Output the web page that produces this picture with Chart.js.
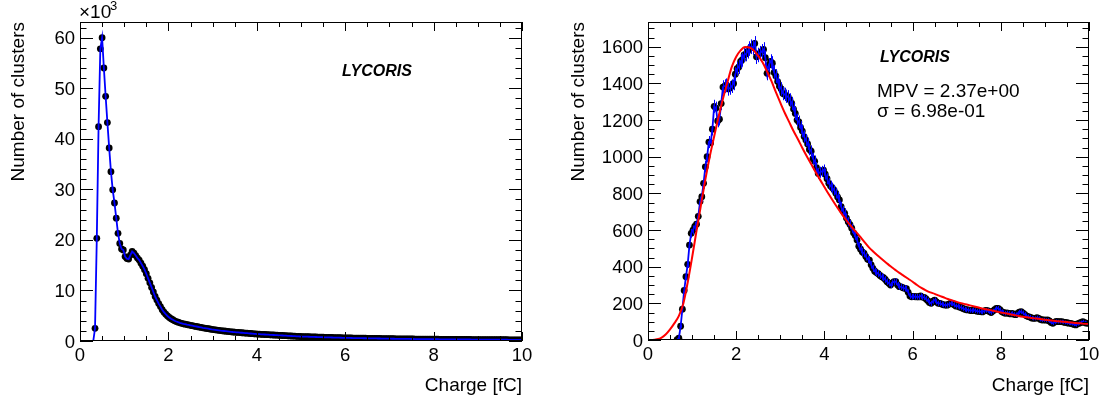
<!DOCTYPE html>
<html>
<head>
<meta charset="utf-8">
<script src="https://cdn.jsdelivr.net/npm/chart.js@4.4.1/dist/chart.umd.min.js"></script>
<style>
  body { margin: 0; background: #fff; }
  #wrap { position: relative; width: 1104px; height: 403px; }
  .pad { position: absolute; top: 0; width: 552px; height: 403px; }
</style>
</head>
<body>
<div id="wrap">
  <div class="pad" style="left:0"><canvas id="leftChart"></canvas></div>
  <div class="pad" style="left:552px"><canvas id="rightChart"></canvas></div>
</div>
<script>
// histogram binning, both pads: 250 bins on 0..10 fC
const xMin = 0, xMax = 10, nBins = 250;

// left pad: clusters per bin, in units of 10^3
const leftCounts = [
  0, 0, 0, 0, 0, 0, 0, 0, 2.5, 20.3, 42.4, 57.8, 60.0, 54.0, 48.4, 43.2, 38.2, 33.5, 29.9, 27.3, 24.3, 21.3, 19.3, 18.2, 18.0,
  16.7, 16.3, 16.2, 17.0, 17.7, 17.4, 16.9, 16.4, 16.0, 15.4, 14.8, 14.1, 13.3, 12.4, 11.5, 10.6, 9.7, 8.8, 8.1, 7.4, 6.8, 6.2, 5.7, 5.3, 4.95,
  4.65, 4.4, 4.2, 4.0, 3.85, 3.72, 3.6, 3.5, 3.4, 3.32, 3.24, 3.17, 3.1, 3.03, 2.96, 2.89, 2.82, 2.75, 2.68, 2.61, 2.55, 2.49, 2.43, 2.37, 2.31,
  2.26, 2.21, 2.16, 2.11, 2.06, 2.02, 1.98, 1.94, 1.90, 1.86, 1.82, 1.78, 1.75, 1.72, 1.69, 1.66, 1.63, 1.60, 1.57, 1.54, 1.51, 1.48, 1.45, 1.42, 1.39,
  1.37, 1.35, 1.33, 1.31, 1.29, 1.27, 1.25, 1.23, 1.21, 1.19, 1.17, 1.15, 1.13, 1.11, 1.09, 1.07, 1.05, 1.03, 1.01, 0.99, 0.97, 0.95, 0.93, 0.91, 0.89,
  0.88, 0.87, 0.86, 0.85, 0.84, 0.82, 0.81, 0.80, 0.79, 0.78, 0.76, 0.75, 0.74, 0.73, 0.72, 0.71, 0.70, 0.69, 0.68, 0.67, 0.66, 0.65, 0.64, 0.63, 0.62,
  0.61, 0.61, 0.60, 0.59, 0.58, 0.58, 0.57, 0.56, 0.56, 0.55, 0.54, 0.54, 0.53, 0.52, 0.52, 0.51, 0.50, 0.50, 0.49, 0.49, 0.48, 0.48, 0.47, 0.47, 0.46,
  0.46, 0.45, 0.45, 0.44, 0.44, 0.43, 0.43, 0.42, 0.42, 0.41, 0.41, 0.41, 0.40, 0.40, 0.39, 0.39, 0.39, 0.38, 0.38, 0.37, 0.37, 0.37, 0.36, 0.36, 0.36,
  0.35, 0.35, 0.35, 0.34, 0.34, 0.34, 0.33, 0.33, 0.33, 0.33, 0.32, 0.32, 0.32, 0.31, 0.31, 0.31, 0.31, 0.30, 0.30, 0.30, 0.30, 0.29, 0.29, 0.29, 0.29,
  0.28, 0.28, 0.28, 0.28, 0.27, 0.27, 0.27, 0.27, 0.26, 0.26, 0.26, 0.26, 0.26, 0.25, 0.25, 0.25, 0.25, 0.24, 0.24, 0.24, 0.24, 0.24, 0.23, 0.23, 0.23
];

// right pad: clusters per bin
const rightCounts = [
  0, 0, 0, 0, 0, 0, 0, 0, 0, 0, 0, 0, 0, 0, 0, 0, 2, 10, 75, 168, 270, 345, 413, 518, 582,
  600, 620, 632, 675, 755, 782, 855, 945, 1000, 1080, 1075, 1150, 1275, 1265, 1195, 1205, 1290, 1380, 1385, 1390, 1370, 1375, 1385, 1400, 1450,
  1480, 1490, 1520, 1530, 1555, 1560, 1575, 1590, 1600, 1595, 1618, 1545, 1555, 1565, 1575, 1585, 1540, 1455, 1500, 1520, 1510, 1460, 1440, 1410, 1385,
  1370, 1345, 1340, 1330, 1327, 1310, 1291, 1260, 1236, 1200, 1190, 1160, 1140, 1110, 1091, 1070, 1040, 1030, 990, 975, 940, 909, 915, 920, 927,
  905, 880, 855, 840, 830, 818, 800, 780, 764, 727, 705, 691, 665, 645, 630, 610, 585, 570, 545, 512, 495, 480, 473, 455, 440,
  436, 410, 391, 375, 368, 362, 352, 345, 340, 330, 318, 310, 300, 312, 318, 318, 300, 291, 290, 285, 282, 280, 260, 240, 236,
  238, 236, 236, 235, 240, 234, 233, 225, 215, 205, 200, 212, 218, 208, 200, 200, 196, 192, 191, 190, 195, 200, 200, 192, 185,
  185, 180, 178, 172, 168, 165, 164, 162, 160, 164, 160, 157, 156, 155, 153, 158, 162, 160, 155, 150, 158, 165, 172, 173, 165,
  155, 150, 146, 148, 145, 142, 145, 140, 138, 145, 152, 155, 148, 140, 132, 128, 125, 120, 118, 118, 122, 118, 112, 109, 110,
  108, 109, 104, 95, 91, 98, 102, 100, 100, 100, 98, 96, 94, 92, 91, 88, 85, 82, 88, 92, 96, 100, 95, 92, 91
];

// fit curve on the right pad, sampled every 0.1 fC from 0 to 10
const fitStep = 0.1;
const fitValues = [
  0, 0.5, 4, 12, 30, 58, 92, 132, 198, 314,
  450, 595, 735, 875, 1000, 1110, 1218, 1316, 1405, 1490,
  1545, 1580, 1598, 1596, 1580, 1550, 1514, 1465, 1412, 1352,
  1295, 1240, 1190, 1140, 1095, 1048, 1003, 960, 917, 875,
  835, 795, 757, 720, 685, 652, 622, 594, 567, 537,
  508, 484, 462, 442, 422, 402, 384, 366, 350, 334,
  318, 300, 284, 271, 260, 252, 242, 233, 224, 216,
  208, 201, 195, 189, 183, 177, 171, 166, 161, 155,
  150, 146, 141, 136, 131, 127, 124, 120, 117, 114,
  111, 108, 105, 102, 100, 98, 96, 93, 91, 89, 87
];

// axis ticks
const xTicks = [0, 2, 4, 6, 8, 10];
const leftYTicks = [0, 10, 20, 30, 40, 50, 60];
const rightYTicks = [0, 200, 400, 600, 800, 1000, 1200, 1400, 1600];

const FONT = '"Liberation Sans", Arial, Helvetica, sans-serif';
const binWidth = (xMax - xMin) / nBins;
const toPoints = arr => arr.map((v, i) => ({ x: xMin + binWidth * (i + 0.5), y: v }));

function text(ctx, str, x, y, opt) {
  ctx.save();
  ctx.font = opt.font;
  ctx.fillStyle = '#000';
  ctx.textAlign = opt.align || 'left';
  ctx.textBaseline = opt.baseline || 'alphabetic';
  ctx.translate(x, y);
  if (opt.rotate) ctx.rotate(opt.rotate);
  ctx.fillText(str, 0, 0);
  ctx.restore();
}

// ROOT style frame: ticks on all four sides, labels, titles, error bars
const rootFrame = {
  id: 'rootFrame',
  afterDatasetDraw(chart, args, opts) {
    if (!opts.errors || args.index !== 2) return;
    const { ctx, scales: { x, y } } = chart;
    ctx.save();
    ctx.strokeStyle = '#0000ff';
    ctx.lineWidth = 1;
    ctx.beginPath();
    opts.errors.forEach(p => {
      if (p.y <= 0) return;
      const e = Math.sqrt(p.y);
      const px = Math.round(x.getPixelForValue(p.x)) + 0.5;
      ctx.moveTo(px, y.getPixelForValue(p.y - e));
      ctx.lineTo(px, y.getPixelForValue(p.y + e));
    });
    ctx.stroke();
    ctx.restore();
  },
  afterDraw(chart, args, opts) {
    const { ctx, chartArea: a, scales: { x, y } } = chart;
    ctx.save();
    ctx.strokeStyle = '#000';
    ctx.lineWidth = 1;
    ctx.strokeRect(a.left + 0.5, a.top + 0.5, a.right - a.left - 1, a.bottom - a.top - 1);
    ctx.beginPath();
    for (let v = x.min; v <= x.max + 1e-9; v += opts.xMinor) {
      const px = Math.round(x.getPixelForValue(v)) + 0.5;
      const major = Math.abs(v / opts.xMajor - Math.round(v / opts.xMajor)) < 1e-6;
      const len = major ? 9 : 5;
      ctx.moveTo(px, a.bottom); ctx.lineTo(px, a.bottom - len);
      ctx.moveTo(px, a.top); ctx.lineTo(px, a.top + len);
    }
    for (let v = y.min; v <= y.max + 1e-9; v += opts.yMinor) {
      const py = Math.round(y.getPixelForValue(v)) + 0.5;
      const major = Math.abs(v / opts.yMajor - Math.round(v / opts.yMajor)) < 1e-6;
      const len = major ? 13 : 6.5;
      ctx.moveTo(a.left, py); ctx.lineTo(a.left + len, py);
      ctx.moveTo(a.right, py); ctx.lineTo(a.right - len, py);
    }
    ctx.stroke();
    ctx.restore();

    const tickFont = '18.5px ' + FONT;
    x.ticks.forEach(t => text(ctx, String(t.value), x.getPixelForValue(t.value), a.bottom + 20,
      { font: tickFont, align: 'center' }));
    y.ticks.forEach(t => text(ctx, String(t.value), a.left - 5, y.getPixelForValue(t.value) + 6.5,
      { font: tickFont, align: 'right' }));

    const titleFont = '19px ' + FONT;
    text(ctx, opts.xTitle, a.right, 391, { font: titleFont, align: 'right' });
    text(ctx, opts.yTitle, opts.yTitleX, a.top, { font: titleFont, align: 'right', rotate: -Math.PI / 2 });

    if (opts.exponent) {
      text(ctx, '\u00d710', a.left - 1, 18, { font: '19px ' + FONT });
      text(ctx, '3', a.left + 30, 10, { font: '13px ' + FONT });
    }
    (opts.labels || []).forEach(l => text(ctx, l.text, l.x, l.y, { font: l.font }));
  }
};

function makeChart(id, cfg) {
  const pts = toPoints(cfg.counts);
  const datasets = [];
  if (cfg.fit) {
    datasets.push({
      data: cfg.fit, borderColor: '#ff0000', borderWidth: 2, pointRadius: 0,
      cubicInterpolationMode: 'monotone', order: 0
    });
  } else {
    datasets.push({ data: [], order: 0 });
  }
  datasets.push({ data: pts, borderColor: '#0000ff', borderWidth: 1.8, pointRadius: 0, tension: 0, order: 1 });
  datasets.push({
    data: pts, showLine: false, order: 2,
    pointRadius: c => (c.raw && c.raw.y > 0 ? 3.4 : 0),
    pointBackgroundColor: '#000', pointBorderWidth: 0
  });

  return new Chart(document.getElementById(id), {
    type: 'line',
    data: { datasets },
    plugins: [rootFrame],
    options: {
      responsive: true,
      maintainAspectRatio: false,
      animation: false,
      events: [],
      layout: { padding: { left: 0, right: cfg.padRight, top: 22, bottom: 0 } },
      plugins: {
        legend: { display: false },
        tooltip: { enabled: false },
        rootFrame: cfg.frame
      },
      scales: {
        x: {
          type: 'linear', min: xMin, max: xMax,
          afterBuildTicks: s => { s.ticks = xTicks.map(v => ({ value: v })); },
          afterFit: s => { s.height = cfg.xAxisHeight; },
          grid: { display: false }, border: { display: false }, ticks: { display: false }
        },
        y: {
          type: 'linear', min: 0, max: cfg.yMax,
          afterBuildTicks: s => { s.ticks = cfg.yTicks.map(v => ({ value: v })); },
          afterFit: s => { s.width = cfg.yAxisWidth; },
          grid: { display: false }, border: { display: false }, ticks: { display: false }
        }
      }
    }
  });
}

const leftChart = makeChart('leftChart', {
  counts: leftCounts,
  yMax: 63.1,
  yTicks: leftYTicks,
  padRight: 30,
  yAxisWidth: 80,
  xAxisHeight: 62,
  frame: {
    xMajor: 2, xMinor: 0.5, yMajor: 10, yMinor: 2,
    xTitle: 'Charge [fC]', yTitle: 'Number of clusters', yTitleX: 24,
    exponent: true,
    labels: [{ text: 'LYCORIS', x: 342, y: 76, font: 'italic bold 16px ' + FONT }]
  }
});

const rightChart = makeChart('rightChart', {
  counts: rightCounts,
  fit: fitValues.map((v, i) => ({ x: fitStep * i, y: v })),
  yMax: 1735,
  yTicks: rightYTicks,
  padRight: 15,
  yAxisWidth: 96,
  xAxisHeight: 63,
  frame: {
    xMajor: 2, xMinor: 0.5, yMajor: 200, yMinor: 50,
    xTitle: 'Charge [fC]', yTitle: 'Number of clusters', yTitleX: 32,
    errors: toPoints(rightCounts),
    labels: [
      { text: 'LYCORIS', x: 328, y: 62, font: 'italic bold 16px ' + FONT },
      { text: 'MPV = 2.37e+00', x: 325, y: 97, font: '19px ' + FONT },
      { text: '\u03c3 = 6.98e-01', x: 325, y: 117, font: '19px ' + FONT }
    ]
  }
});
</script>
</body>
</html>
